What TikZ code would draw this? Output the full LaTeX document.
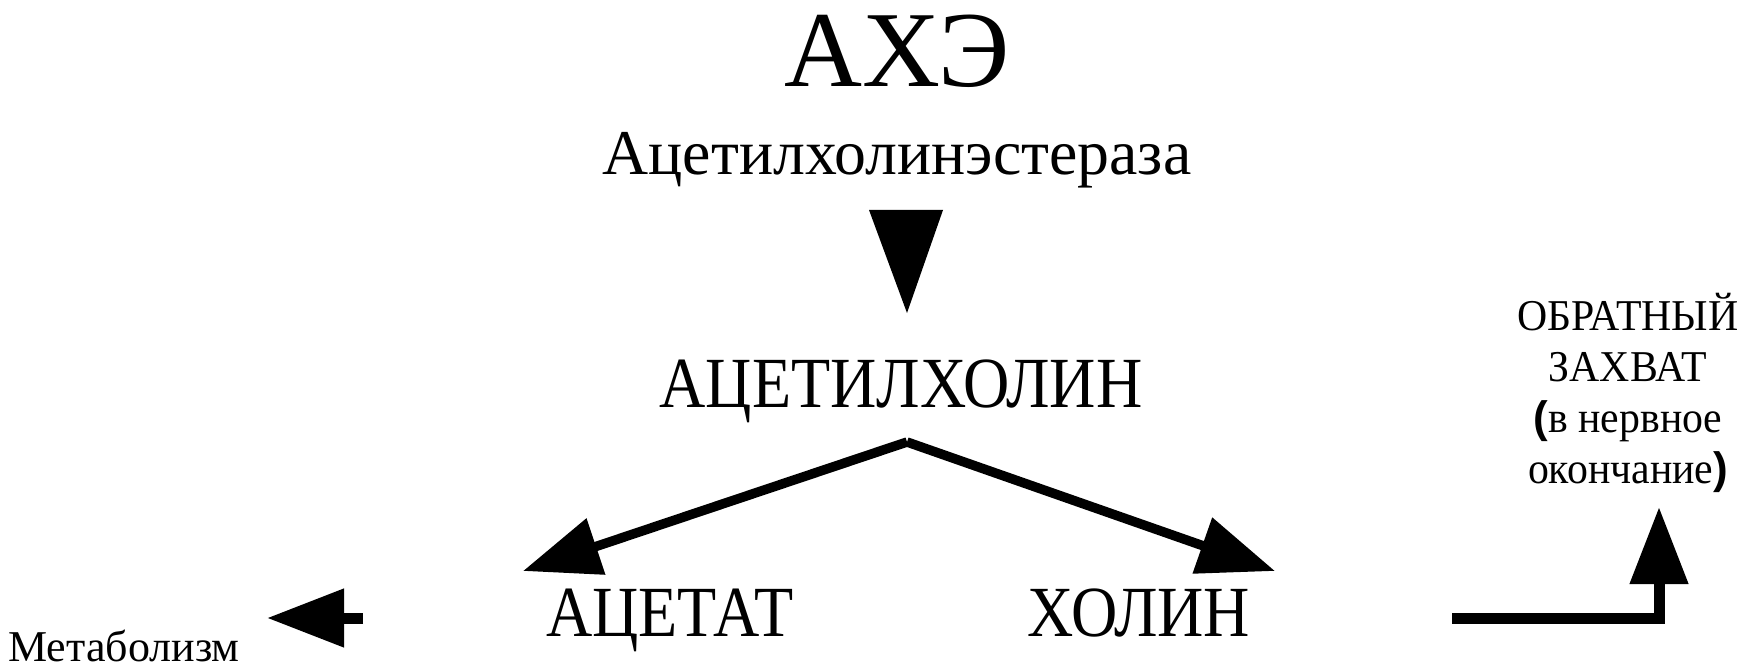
\documentclass[tikz,border=0pt]{standalone}
\usepackage{fontspec}
\setmainfont{Liberation Serif}
\newfontfamily\narrowserif{Liberation Serif}[FakeStretch=0.89]
\newfontfamily\noteserif{Liberation Serif}[FakeStretch=0.95]
\newfontfamily\parensans{Liberation Sans}
\usetikzlibrary{positioning, arrows.meta}

\begin{document}
\begin{tikzpicture}[
    x=0.5pt, y=-0.5pt,
    title/.style = {inner sep=0pt, anchor=base, font=\fontsize{54}{60}\selectfont},
    enzyme/.style = {inner sep=0pt, anchor=base, font=\fontsize{31.9}{36}\selectfont},
    chem/.style = {inner sep=0pt, anchor=base, font=\fontsize{36}{40}\selectfont\narrowserif},
    small/.style = {inner sep=0pt, anchor=base, font=\fontsize{22}{26}\selectfont},
    note/.style = {inner sep=0pt, anchor=base, align=center, font=\fontsize{22}{25.5}\selectfont\noteserif},
    split/.style = {line width=4.75pt, -{Triangle[length=38.5pt, width=28.5pt]}},
    flow/.style = {line width=5.5pt, -{Triangle[length=38.5pt, width=28pt]}}
  ]
  \useasboundingbox (0,0) rectangle (1744,668);

  % ================= ФЕРМЕНТ =================
  \node[title] (ache) at (897,87) {АХЭ};
  \node[enzyme] (ache-full) at (897,175) {Ацетилхолинэстераза};

  % Действие фермента
  \coordinate (hit) at (907,313);
  \fill (hit) -- ++(-38,-103) -- ++(74,0) -- cycle;

  % ================= СУБСТРАТ =================
  \node[chem] (ach) at (901,407) {АЦЕТИЛХОЛИН};

  % ================= ПРОДУКТЫ =================
  \node[chem] (acetate) at (670,636) {АЦЕТАТ};
  \node[chem] (choline) at (1139,636) {ХОЛИН};

  \coordinate (fork) at (907,442);
  \coordinate (acetate-in) at (523,571);
  \coordinate (choline-in) at (1275,571);
  \draw[split] (fork) -- (acetate-in);
  \draw[split] (fork) -- (choline-in);

  % ================= ДАЛЬНЕЙШАЯ СУДЬБА =================
  \node[small] (metab) at (124,661) {Метаболизм};
  \coordinate (metab-out) at (363,618);
  \coordinate (metab-in) at (267,618);
  \draw[flow] (metab-out) -- (metab-in);

  \node[note] (uptake) at (1628,483) {ОБРАТНЫЙ\\ЗАХВАТ\\{\parensans\bfseries(}в нервное\\окончание{\parensans\bfseries)}};
  \coordinate (uptake-out) at (1452,618);
  \coordinate (uptake-in) at (1659,507);
  \draw[flow] (uptake-out) -| (uptake-in);

\end{tikzpicture}
\end{document}
